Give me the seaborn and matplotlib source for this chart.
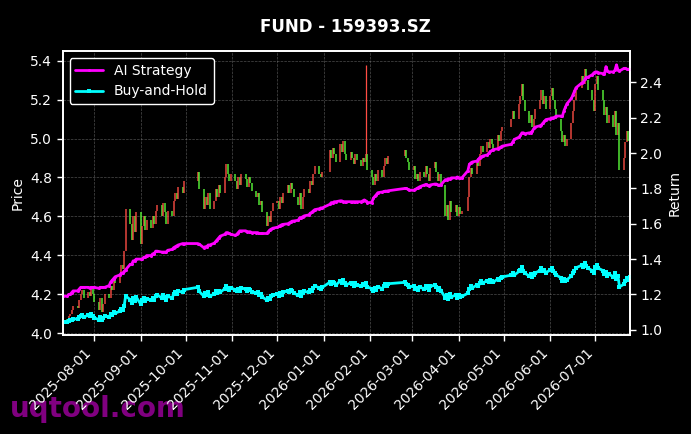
import numpy as np
import pandas as pd
import seaborn as sns
import matplotlib
matplotlib.use("Agg")
import matplotlib.pyplot as plt
import matplotlib.dates as mdates

# trading calendar (SZ exchange, holidays removed)
start_date = "2025-07-11"
end_date = "2026-07-24"
holidays = ["2025-10-01", "2025-10-02", "2025-10-03", "2025-10-06", "2025-10-07", "2025-10-08",
            "2026-01-01", "2026-01-02",
            "2026-02-16", "2026-02-17", "2026-02-18", "2026-02-19", "2026-02-20", "2026-02-23",
            "2026-04-06", "2026-05-01", "2026-05-04", "2026-05-05", "2026-06-19"]

first_open = 4.05
# daily closes, one row per month
close_prices = [
    4.07, 4.06, 4.09, 4.10, 4.12, 4.14, 4.13, 4.17, 4.20, 4.22, 4.18, 4.21, 4.19, 4.24, 4.20,
    4.16, 4.12, 4.18, 4.11, 4.15, 4.20, 4.18, 4.24, 4.22, 4.28, 4.26, 4.30, 4.35, 4.33, 4.42,
    4.64, 4.56, 4.48, 4.60, 4.52, 4.62,
    4.46, 4.55, 4.60, 4.53, 4.58, 4.54, 4.60, 4.56, 4.63, 4.66, 4.60, 4.67, 4.62, 4.56, 4.63,
    4.60, 4.68, 4.72, 4.69, 4.75, 4.72, 4.78,
    4.83, 4.74, 4.64, 4.70, 4.66, 4.72, 4.64, 4.68, 4.74, 4.70, 4.76, 4.72, 4.80, 4.87, 4.82,
    4.78, 4.82,
    4.78, 4.74, 4.80, 4.76, 4.82, 4.79, 4.75, 4.80, 4.77, 4.73, 4.70, 4.72, 4.66, 4.68, 4.62,
    4.55, 4.60, 4.57, 4.63, 4.67,
    4.68, 4.64, 4.70, 4.67, 4.72, 4.76, 4.72, 4.77, 4.74, 4.70, 4.66, 4.72, 4.64, 4.70, 4.74,
    4.72, 4.78, 4.76, 4.82, 4.86, 4.82, 4.80, 4.83,
    4.94, 4.90, 4.95, 4.92, 4.88, 4.97, 4.93, 4.99, 4.92, 4.89, 4.93, 4.90, 4.87, 4.92, 4.89,
    4.86, 4.90, 4.88, 4.92, 4.84,
    4.80, 4.76, 4.82, 4.78, 4.84, 4.80, 4.86, 4.90, 4.87, 4.91, 4.94, 4.90, 4.88, 4.84,
    4.86, 4.79, 4.82, 4.78, 4.83, 4.80, 4.86, 4.82, 4.78, 4.85, 4.88, 4.83, 4.78, 4.82, 4.76,
    4.60, 4.66, 4.58, 4.68, 4.62, 4.66, 4.60,
    4.65, 4.61, 4.63, 4.70, 4.80, 4.85, 4.82, 4.88, 4.86, 4.92, 4.96, 4.93, 4.98, 4.95, 5.00,
    4.97, 4.94, 5.02, 4.99, 5.04, 5.06,
    5.10, 5.14, 5.10, 5.18, 5.22, 5.28, 5.20, 5.14, 5.08, 5.12, 5.06, 5.10, 5.15, 5.20, 5.25,
    5.18, 5.22, 5.15,
    5.22, 5.26, 5.20, 5.15, 5.10, 5.04, 4.98, 5.02, 4.96, 5.00, 5.08, 5.14, 5.20, 5.26, 5.32,
    5.28, 5.36, 5.30, 5.25, 5.20, 5.14,
    5.28, 5.32, 5.25, 5.20, 5.12, 5.16, 5.08, 5.12, 5.06, 5.14, 5.02, 5.08, 4.84, 4.90, 4.98,
    5.04, 4.99, 5.06,
]

# long upper shadow
spike_dates = ["2026-01-29"]
spike_highs = [5.38]

# AI strategy equity curve
ai_returns = [
    1.19, 1.19, 1.20, 1.20, 1.21, 1.22, 1.22, 1.23, 1.24, 1.24, 1.24, 1.24, 1.235, 1.24, 1.24,
    1.24, 1.235, 1.24, 1.24, 1.24, 1.24, 1.25, 1.27, 1.28, 1.29, 1.30, 1.31, 1.32, 1.32, 1.33,
    1.34, 1.37, 1.37, 1.39, 1.39, 1.40,
    1.40, 1.40, 1.41, 1.41, 1.42, 1.42, 1.43, 1.43, 1.445, 1.445, 1.44, 1.44, 1.44, 1.44, 1.45,
    1.455, 1.465, 1.47, 1.475, 1.48, 1.488, 1.488,
    1.488, 1.485, 1.465, 1.47, 1.47, 1.48, 1.48, 1.49, 1.50, 1.51, 1.52, 1.53, 1.54, 1.55, 1.55,
    1.545, 1.54,
    1.535, 1.54, 1.55, 1.56, 1.56, 1.56, 1.555, 1.555, 1.555, 1.55, 1.55, 1.55, 1.545, 1.545, 1.545,
    1.545, 1.555, 1.565, 1.57, 1.575,
    1.58, 1.585, 1.59, 1.595, 1.597, 1.60, 1.605, 1.61, 1.615, 1.616, 1.62, 1.635, 1.635, 1.64, 1.645,
    1.65, 1.66, 1.665, 1.673, 1.68, 1.685, 1.69, 1.69,
    1.71, 1.72, 1.72, 1.725, 1.725, 1.73, 1.73, 1.725, 1.725, 1.725, 1.725, 1.725, 1.725, 1.725, 1.725,
    1.725, 1.73, 1.735, 1.73, 1.72,
    1.72, 1.745, 1.755, 1.765, 1.776, 1.78, 1.783, 1.785, 1.785, 1.787, 1.80, 1.80, 1.795, 1.79,
    1.79, 1.795, 1.80, 1.805, 1.81, 1.82, 1.823, 1.82, 1.815, 1.82, 1.825, 1.825, 1.82, 1.82, 1.82,
    1.85, 1.85, 1.855, 1.855, 1.86, 1.86, 1.865,
    1.86, 1.86, 1.86, 1.90, 1.937, 1.945, 1.95, 1.955, 1.965, 1.975, 1.98, 1.984, 1.99, 2.00, 2.01,
    2.015, 2.02, 2.025, 2.03, 2.035, 2.04,
    2.05, 2.065, 2.078, 2.09, 2.10, 2.115, 2.115, 2.11, 2.115, 2.115, 2.125, 2.14, 2.148, 2.155, 2.16,
    2.17, 2.18, 2.19,
    2.195, 2.20, 2.20, 2.205, 2.21, 2.21, 2.21, 2.24, 2.26, 2.28, 2.31, 2.33, 2.35, 2.37, 2.398,
    2.40, 2.42, 2.43, 2.43, 2.445, 2.455,
    2.46, 2.46, 2.455, 2.45, 2.45, 2.49, 2.465, 2.46, 2.46, 2.47, 2.50, 2.47, 2.465, 2.48, 2.48,
    2.475, 2.475, 2.475,
]
bh_start = 1.045

days = pd.bdate_range(start_date, end_date)
days = days[~days.isin(pd.to_datetime(holidays))]

closes = np.array(close_prices)
opens = np.r_[first_open, closes[:-1]]
bh_returns = closes / closes[0] * bh_start
df = pd.DataFrame({"date": days, "open": opens, "close": closes,
                   "ai": ai_returns, "bh": bh_returns})

sns.set_theme(style="dark", rc={
    "figure.facecolor": "black", "axes.facecolor": "black", "savefig.facecolor": "black",
    "axes.edgecolor": "white", "axes.labelcolor": "white", "text.color": "white",
    "xtick.color": "white", "ytick.color": "white",
    "xtick.bottom": True, "ytick.left": True, "ytick.right": True,
    "font.size": 10, "axes.labelsize": 10, "xtick.labelsize": 10, "ytick.labelsize": 10,
    "legend.fontsize": 10,
})
plt.rcParams["font.family"] = ["DejaVu Sans"]

fig = plt.figure(figsize=(6.91, 4.34), dpi=100)
ax = fig.add_axes([0.0906, 0.228, 0.8211, 0.6544])

# candles: red up, green down
up = df["close"] >= df["open"]
cols = np.where(up, "#ff4d44", "#5cff3a")
ax.vlines(df["date"], df[["open", "close"]].min(axis=1), df[["open", "close"]].max(axis=1),
          colors=cols, linewidth=1.1, alpha=0.9)
spike_idx = df["date"].isin(pd.to_datetime(spike_dates))
ax.vlines(df.loc[spike_idx, "date"], df.loc[spike_idx, "close"], spike_highs,
          colors="#ff4d44", linewidth=0.9)

ax.set_ylim(3.99, 5.45)
ax.set_xlim(df["date"].iloc[0], df["date"].iloc[-1])
ax.set_ylabel("Price")
ax.grid(True, color="gray", linestyle="--", linewidth=0.5, alpha=0.6)
ax.tick_params(axis="both", length=4, width=1, colors="white")

ax2 = ax.twinx()
sns.lineplot(data=df, x="date", y="ai", ax=ax2, color="magenta", linewidth=2,
             marker="o", markersize=2.2, markeredgewidth=0, label="AI Strategy")
sns.lineplot(data=df, x="date", y="bh", ax=ax2, color="cyan", linewidth=2,
             marker="s", markersize=2.2, markeredgewidth=0, label="Buy-and-Hold")
ax2.set_ylim(0.97, 2.578)
ax2.set_ylabel("Return")
ax2.set_xlabel("")
ax2.grid(False)
ax2.tick_params(axis="y", length=4, width=1, colors="white")
for sp in list(ax.spines.values()) + list(ax2.spines.values()):
    sp.set_color("white")

ax.xaxis.set_major_locator(mdates.MonthLocator(bymonthday=1))
ax.xaxis.set_major_formatter(mdates.DateFormatter("%Y-%m-%d"))
plt.setp(ax.get_xticklabels(), rotation=45, ha="right")
ax.set_xlabel("")

leg = ax2.legend(loc="upper left", facecolor="black", edgecolor="white",
                 labelcolor="white", framealpha=1.0)

fig.suptitle("FUND - 159393.SZ", color="white", fontsize=12, fontweight="bold", y=0.958)
fig.text(0.0145, 0.039, "uqtool.com", color="purple", fontsize=20, fontweight="bold",
         va="baseline", ha="left", zorder=-1)

fig.savefig("out.png", dpi=100)
